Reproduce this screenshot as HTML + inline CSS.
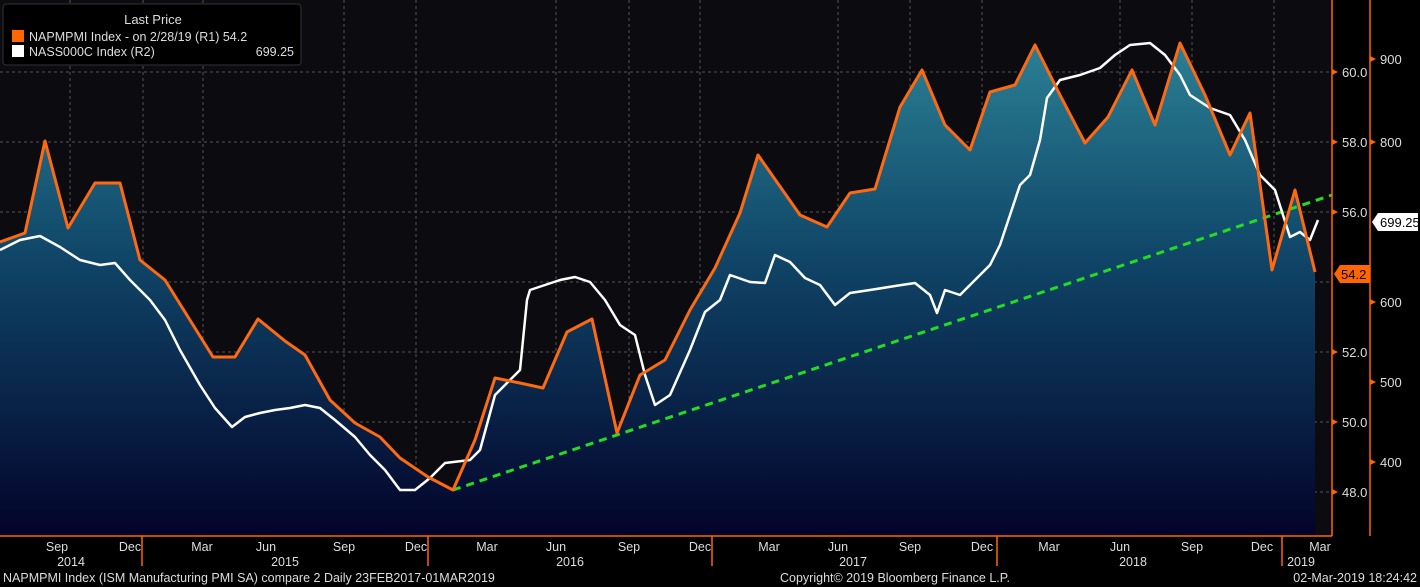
<!DOCTYPE html>
<html><head><meta charset="utf-8"><style>
html,body{margin:0;padding:0;background:#000;}
svg{display:block;font-family:"Liberation Sans",sans-serif;}
</style></head><body>
<svg width="1420" height="587" viewBox="0 0 1420 587">
<defs>
<linearGradient id="g" x1="0" y1="40" x2="0" y2="536" gradientUnits="userSpaceOnUse">
<stop offset="0" stop-color="#2b8196"/>
<stop offset="0.45" stop-color="#0f4466"/>
<stop offset="1" stop-color="#03032a"/>
</linearGradient>
</defs>
<rect x="0" y="0" width="1420" height="587" fill="#000"/>
<rect x="0" y="0" width="1332" height="536" fill="#0b0b10"/>
<g stroke="#555" stroke-width="1" stroke-dasharray="3,3">
<line x1="0" y1="72" x2="1332" y2="72"/><line x1="0" y1="142" x2="1332" y2="142"/>
<line x1="0" y1="212" x2="1332" y2="212"/><line x1="0" y1="282" x2="1332" y2="282"/>
<line x1="0" y1="352" x2="1332" y2="352"/><line x1="0" y1="422" x2="1332" y2="422"/>
<line x1="0" y1="492" x2="1332" y2="492"/>
<line x1="70" y1="0" x2="70" y2="536"/><line x1="143" y1="0" x2="143" y2="536"/>
<line x1="203" y1="0" x2="203" y2="536"/><line x1="344" y1="0" x2="344" y2="536"/>
<line x1="416" y1="0" x2="416" y2="536"/><line x1="556" y1="0" x2="556" y2="536"/>
<line x1="629" y1="0" x2="629" y2="536"/><line x1="700" y1="0" x2="700" y2="536"/>
<line x1="838" y1="0" x2="838" y2="536"/><line x1="910" y1="0" x2="910" y2="536"/>
<line x1="982" y1="0" x2="982" y2="536"/><line x1="1120" y1="0" x2="1120" y2="536"/>
<line x1="1192" y1="0" x2="1192" y2="536"/><line x1="1274" y1="0" x2="1274" y2="536"/>
</g>
<polygon fill="url(#g)" points="0,536 0,242 25,233 45,141 68,228 95,183 120,183 140,260 165,280 213,357 235,357 258,319 285,341 305,355 330,400 355,423 380,437 400,458 428,477 453,490 475,440 495,378 520,383 543,388 567,332 592,319 617,433 640,375 665,360 690,310 715,268 740,213 758,155 800,215 827,227 850,193 875,189 900,107 922,70 945,125 970,150 990,92 1015,85 1035,45 1060,95 1085,143 1108,117 1132,70 1155,125 1180,43 1205,95 1230,155 1250,113 1272,270 1295,190 1315,272 1315,536"/>
<line x1="453" y1="490" x2="1332" y2="195" stroke="#22dd22" stroke-width="3" stroke-dasharray="8,6"/>
<polyline fill="none" stroke="#fff" stroke-width="2.5" stroke-linejoin="round" points="0,250 20,240 40,236 60,247 80,260 100,265 115,263 130,280 150,300 165,320 180,350 200,385 215,408 232,427 245,417 260,413 275,410 290,408 305,405 320,408 335,420 355,437 370,455 385,470 400,490 415,490 430,478 445,463 470,460 480,450 495,395 505,385 520,370 527,300 530,290 545,285 560,280 575,277 590,282 605,300 620,325 635,335 645,375 655,405 670,395 690,350 705,312 720,300 730,275 750,282 765,283 775,255 790,262 805,278 820,285 835,305 850,293 870,290 895,286 915,283 930,295 937,313 945,290 960,295 975,280 990,265 1000,245 1010,215 1020,185 1030,175 1040,140 1047,98 1060,80 1080,75 1100,68 1115,55 1130,45 1150,43 1165,55 1180,75 1190,95 1210,108 1230,115 1245,140 1260,175 1275,190 1290,237 1300,232 1310,240 1318,220"/>
<polyline fill="none" stroke="#ff6a10" stroke-width="3" stroke-linejoin="round" points="0,242 25,233 45,141 68,228 95,183 120,183 140,260 165,280 213,357 235,357 258,319 285,341 305,355 330,400 355,423 380,437 400,458 428,477 453,490 475,440 495,378 520,383 543,388 567,332 592,319 617,433 640,375 665,360 690,310 715,268 740,213 758,155 800,215 827,227 850,193 875,189 900,107 922,70 945,125 970,150 990,92 1015,85 1035,45 1060,95 1085,143 1108,117 1132,70 1155,125 1180,43 1205,95 1230,155 1250,113 1272,270 1295,190 1315,272"/>
<!-- legend -->
<rect x="3" y="4" width="298" height="61" rx="3" fill="#000" stroke="#333"/>
<text x="153" y="24" fill="#ddd" font-size="13" text-anchor="middle">Last Price</text>
<rect x="12" y="30" width="12" height="12" fill="#ff6600"/>
<rect x="12" y="45" width="12" height="12" fill="#fff"/>
<text x="29" y="41" fill="#ddd" font-size="12.5">NAPMPMI Index -  on 2/28/19  (R1) 54.2</text>
<text x="29" y="56" fill="#ddd" font-size="12.5">NASS000C Index  (R2)</text>
<text x="294" y="56" fill="#ddd" font-size="12.5" text-anchor="end">699.25</text>
<!-- axes -->
<g stroke="#ff6600" stroke-width="1.5">
<line x1="1332" y1="0" x2="1332" y2="536"/>
<line x1="1370" y1="0" x2="1370" y2="536"/>
<line x1="0" y1="536" x2="1332" y2="536"/>
<line x1="142" y1="536" x2="142" y2="566"/><line x1="428" y1="536" x2="428" y2="566"/>
<line x1="712" y1="536" x2="712" y2="566"/><line x1="997" y1="536" x2="997" y2="566"/>
<line x1="1282" y1="536" x2="1282" y2="566"/>
</g>
<g fill="#ff6600">
<polygon points="1332,69 1338,72 1332,75"/><polygon points="1332,139 1338,142 1332,145"/>
<polygon points="1332,209 1338,212 1332,215"/><polygon points="1332,349 1338,352 1332,355"/>
<polygon points="1332,419 1338,422 1332,425"/><polygon points="1332,489 1338,492 1332,495"/>
<polygon points="1370,56 1376,59 1370,62"/><polygon points="1370,139 1376,142 1370,145"/>
<polygon points="1370,299 1376,302 1370,305"/><polygon points="1370,379 1376,382 1370,385"/>
<polygon points="1370,459 1376,462 1370,465"/>
</g>
<g fill="#ddd" font-size="13">
<text x="1342" y="77">60.0</text><text x="1342" y="147">58.0</text>
<text x="1342" y="217">56.0</text><text x="1342" y="357">52.0</text>
<text x="1342" y="427">50.0</text><text x="1342" y="497">48.0</text>
<text x="1380" y="64">900</text><text x="1380" y="147">800</text>
<text x="1380" y="307">600</text><text x="1380" y="387">500</text>
<text x="1380" y="467">400</text>
</g>
<polygon points="1372,222 1378,213 1418,213 1418,231 1378,231" fill="#fff"/>
<text x="1380" y="227" font-size="13" fill="#000">699.25</text>
<polygon points="1334,274 1340,265 1370,265 1370,283 1340,283" fill="#ff6600"/>
<text x="1341" y="279" font-size="13" fill="#000">54.2</text>
<g fill="#ddd" font-size="12.5" text-anchor="middle">
<text x="57" y="551">Sep</text><text x="130" y="551">Dec</text><text x="202" y="551">Mar</text>
<text x="266" y="551">Jun</text><text x="344" y="551">Sep</text><text x="416" y="551">Dec</text>
<text x="487" y="551">Mar</text><text x="556" y="551">Jun</text><text x="629" y="551">Sep</text>
<text x="700" y="551">Dec</text><text x="769" y="551">Mar</text><text x="838" y="551">Jun</text>
<text x="910" y="551">Sep</text><text x="982" y="551">Dec</text><text x="1049" y="551">Mar</text>
<text x="1120" y="551">Jun</text><text x="1192" y="551">Sep</text><text x="1262" y="551">Dec</text>
<text x="1320" y="551">Mar</text>
<text x="71" y="566">2014</text><text x="285" y="566">2015</text><text x="570" y="566">2016</text>
<text x="853" y="566">2017</text><text x="1133" y="566">2018</text><text x="1301" y="566">2019</text>
</g>
<text x="3" y="582" fill="#ddd" font-size="12.5">NAPMPMI Index (ISM Manufacturing PMI SA) compare 2  Daily 23FEB2017-01MAR2019</text>
<text x="780" y="582" fill="#ddd" font-size="12.5">Copyright© 2019 Bloomberg Finance L.P.</text>
<text x="1417" y="582" fill="#ddd" font-size="12.5" text-anchor="end">02-Mar-2019 18:24:42</text>
</svg>
</body></html>
